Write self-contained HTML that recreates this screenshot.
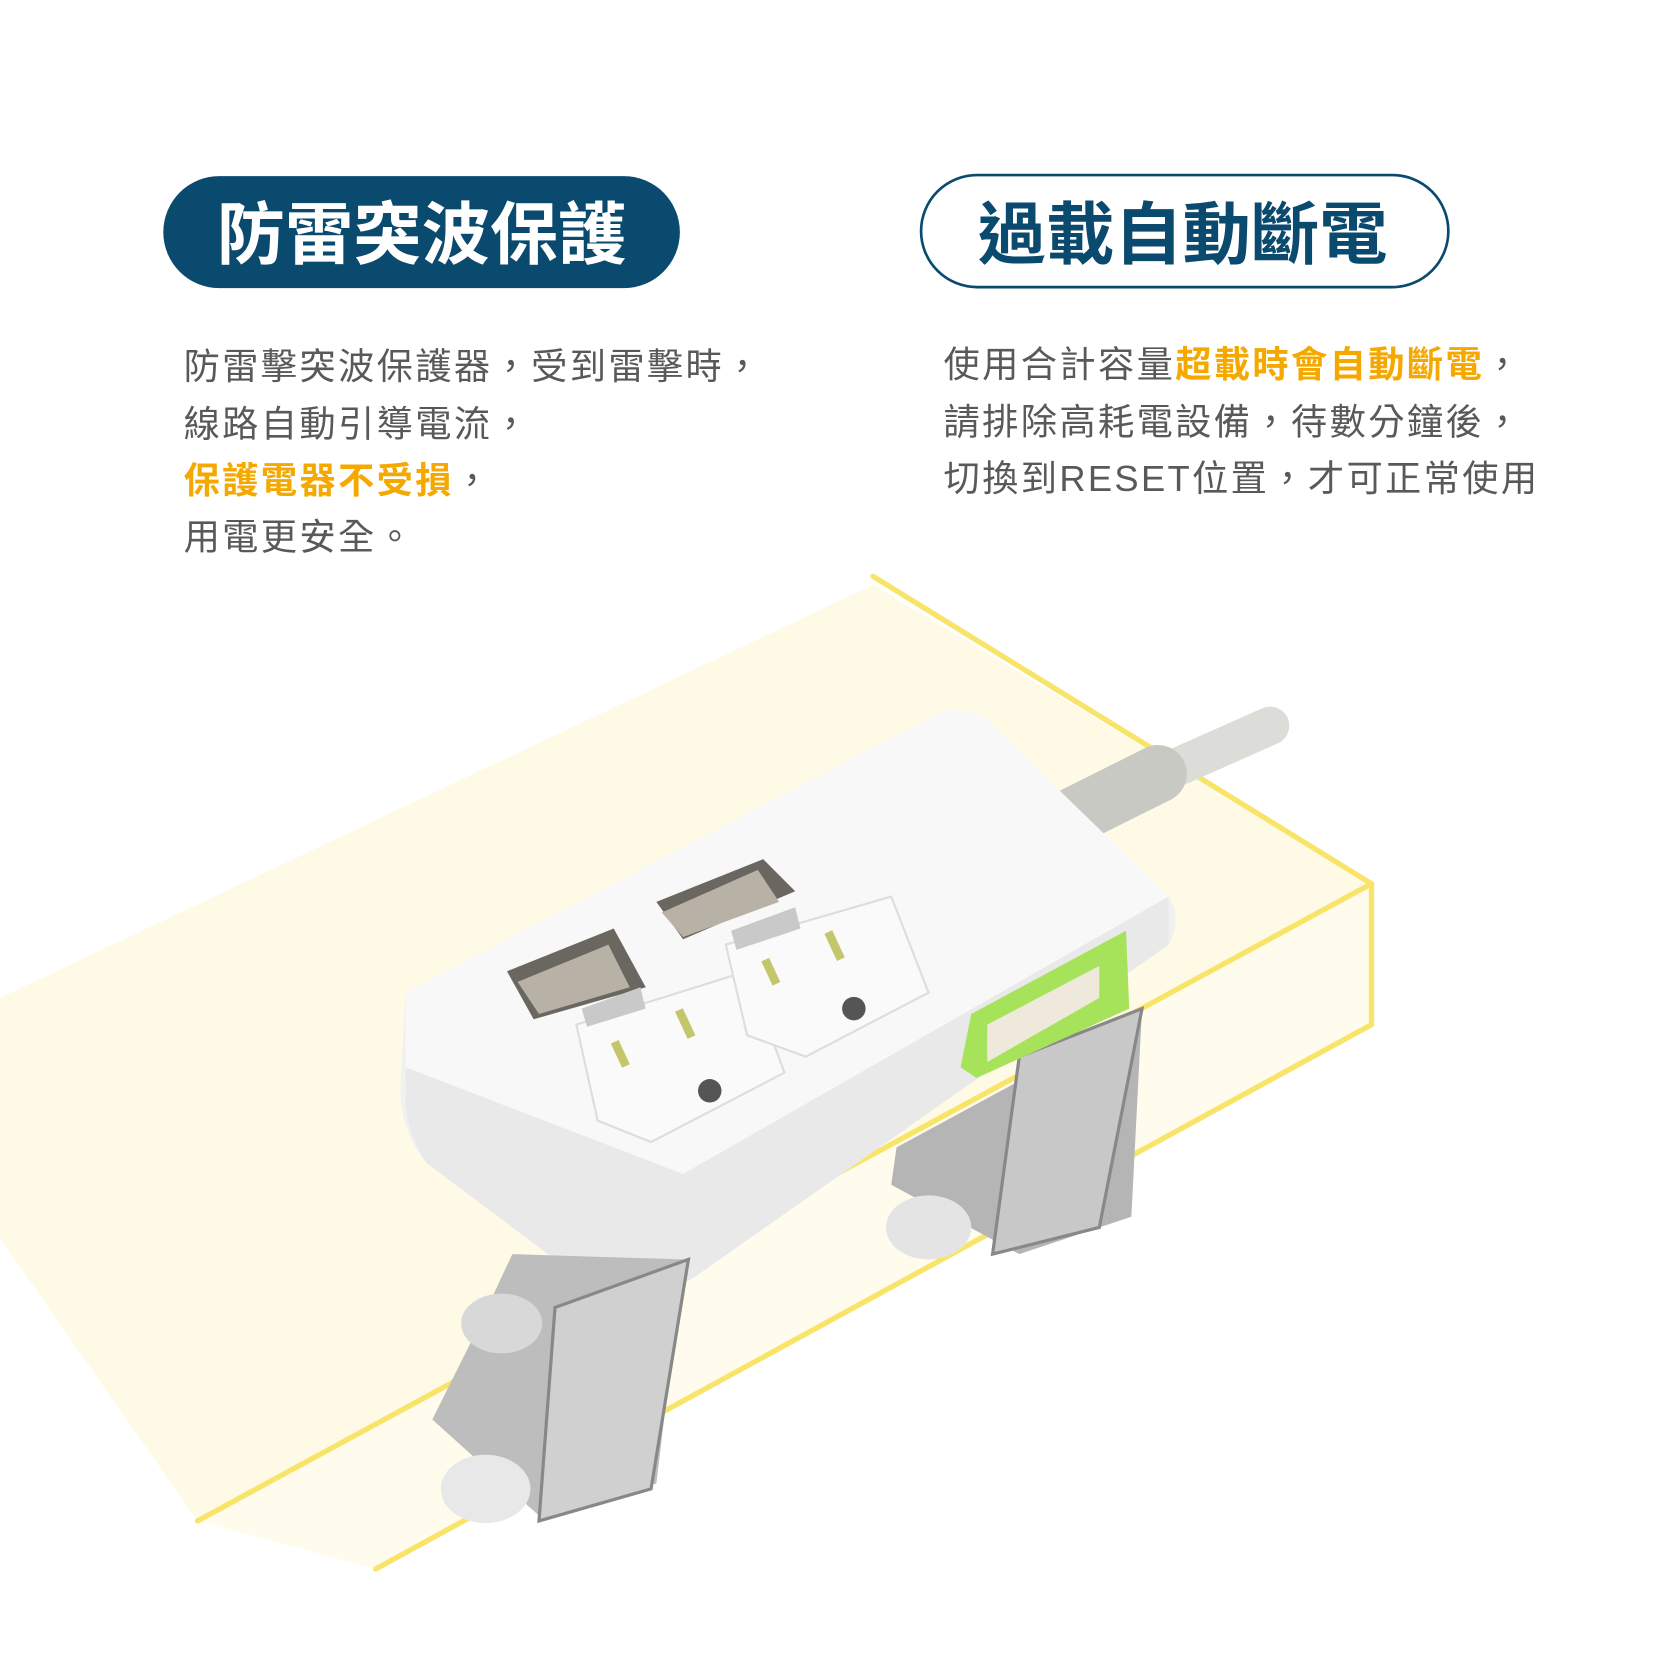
<!DOCTYPE html>
<html><head><meta charset="utf-8"><style>
html,body{margin:0;padding:0;background:#fff;}
svg{display:block;}
text{font-family:"Liberation Sans","Noto Sans CJK TC",sans-serif;}
</style></head><body>
<svg width="1665" height="1665" viewBox="0 0 1560 1560" xmlns="http://www.w3.org/2000/svg">
<rect width="1560" height="1560" fill="#fff"/>
<!-- desk plane -->
<polygon points="0,935 818,548 1285,828 1285,960 352,1470 185,1425 0,1160" fill="#fffcee"/>
<polygon points="0,935 818,548 1285,828 185,1425 0,1160" fill="#fffae6"/>
<g stroke="#f9e46a" stroke-width="5" fill="none" stroke-linecap="round">
<line x1="818" y1="540" x2="1285" y2="828"/>
<line x1="1285" y1="828" x2="1285" y2="960"/>
<line x1="1285" y1="828" x2="185" y2="1425"/>
<line x1="1285" y1="960" x2="352" y2="1470"/>
</g>
<!-- cable -->
<path d="M1010,760 L1190,680" stroke="#dcdcd8" stroke-width="36" stroke-linecap="round"/>
<path d="M1005,765 L1085,725" stroke="#c9c9c4" stroke-width="54" stroke-linecap="round"/>
<!-- clamps back -->
<polygon points="840,1075 960,1010 1070,945 1060,1140 955,1175 835,1110" fill="#b5b5b5"/>
<polygon points="955,990 1070,945 1030,1150 930,1175" fill="#c8c8c8" stroke="#888" stroke-width="3"/>
<ellipse cx="870" cy="1150" rx="40" ry="30" fill="#e4e4e4"/>
<!-- body -->
<path d="M380,930 L880,668 Q905,660 925,675 L1095,840 Q1108,860 1095,885 L660,1190 Q635,1210 600,1210 L560,1210 L400,1090 Q375,1060 375,1020 Z" fill="#f1f1f1"/>
<path d="M380,930 L880,668 Q905,660 925,675 L1095,840 L640,1100 L380,1000 Z" fill="#f8f8f8"/>
<path d="M380,1000 L640,1100 L1095,840 L1095,885 L660,1190 Q635,1210 600,1210 L560,1210 L400,1090 Q380,1060 380,1030Z" fill="#e9e9e9"/>
<!-- green master -->
<polygon points="910,950 1055,872 1058,945 915,1010 900,1000" fill="#a6e25a"/>
<polygon points="925,960 1030,905 1030,935 925,995" fill="#efe9dc"/>
<!-- switches -->
<polygon points="475,910 575,870 605,925 500,955" fill="#6a6660"/>
<polygon points="485,920 570,885 590,925 505,950" fill="#b8b2a6"/>
<polygon points="615,845 715,805 745,835 640,880" fill="#6a6660"/>
<polygon points="620,855 710,815 730,845 640,878" fill="#b8b2a6"/>
<!-- outlets -->
<polygon points="540,960 700,910 735,1005 610,1070 560,1050" fill="#fafafa" stroke="#ddd" stroke-width="2"/>
<polygon points="680,885 835,840 870,930 755,990 700,970" fill="#fafafa" stroke="#ddd" stroke-width="2"/>
<polygon points="545,945 600,925 605,945 550,962" fill="#c9c9c9"/>
<polygon points="685,872 745,850 750,870 690,890" fill="#c9c9c9"/>
<g fill="#c3c66a"><rect x="577" y="975" width="8" height="25" transform="rotate(-25 581 987)"/><rect x="638" y="945" width="8" height="28" transform="rotate(-25 642 959)"/><rect x="718" y="898" width="8" height="25" transform="rotate(-25 722 910)"/><rect x="778" y="872" width="8" height="28" transform="rotate(-25 782 886)"/></g>
<circle cx="665" cy="1022" r="11" fill="#555"/><circle cx="800" cy="945" r="11" fill="#555"/>
<!-- front clamp -->
<polygon points="480,1175 640,1180 615,1390 505,1420 405,1330 445,1250" fill="#bdbdbd"/>
<polygon points="520,1225 645,1180 610,1395 505,1425" fill="#d0d0d0" stroke="#888" stroke-width="3"/>
<ellipse cx="470" cy="1240" rx="38" ry="28" fill="#d8d8d8"/>
<ellipse cx="455" cy="1395" rx="42" ry="32" fill="#e8e8e8"/>
<!-- pills -->
<rect x="153" y="165" width="484" height="105" rx="52.5" fill="#0a4a6e"/>
<text x="395" y="242" font-size="64" font-weight="bold" fill="#fff" text-anchor="middle">防雷突波保護</text>
<rect x="863" y="164" width="494" height="105" rx="52.5" fill="#fff" stroke="#0a4a6e" stroke-width="2.5"/>
<text x="1108" y="242" font-size="64" font-weight="bold" fill="#0a4a6e" text-anchor="middle">過載自動斷電</text>
<!-- text -->
<g font-size="34" fill="#595959" letter-spacing="2.2">
<text x="172" y="355">防雷擊突波保護器，受到雷擊時，</text>
<text x="172" y="409">線路自動引導電流，</text>
<text x="172" y="462"><tspan fill="#f5a800" font-weight="bold">保護電器不受損</tspan>，</text>
<text x="172" y="515">用電更安全。</text>
<text x="884" y="353">使用合計容量<tspan fill="#f5a800" font-weight="bold">超載時會自動斷電</tspan>，</text>
<text x="884" y="407">請排除高耗電設備，待數分鐘後，</text>
<text x="884" y="460">切換到RESET位置，才可正常使用</text>
</g>
</svg>
</body></html>
